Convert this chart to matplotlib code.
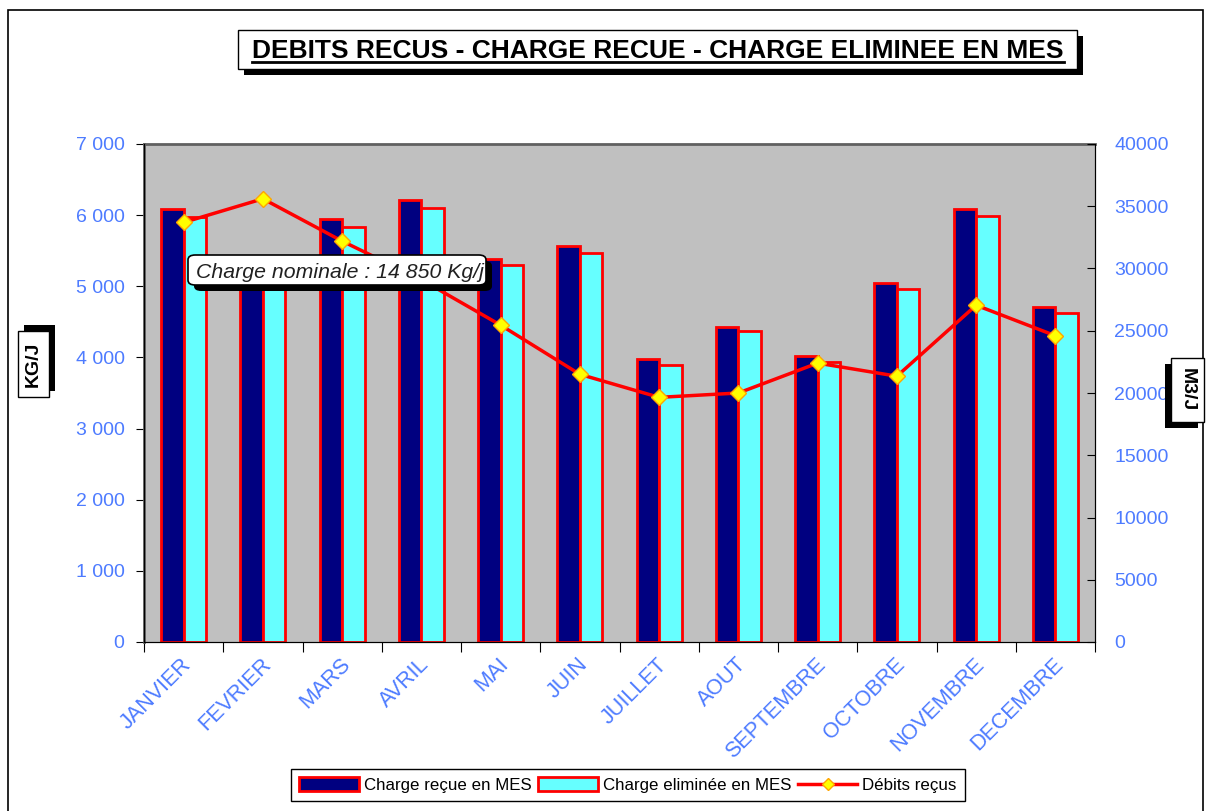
import matplotlib
matplotlib.use('Agg')
import numpy as np
import matplotlib.pyplot as plt
from matplotlib.patches import Rectangle, FancyBboxPatch, Patch
from matplotlib.lines import Line2D
from matplotlib.ticker import FuncFormatter, FixedLocator, MultipleLocator
from matplotlib.transforms import Bbox, TransformedBbox

MOIS = ['JANVIER', 'FEVRIER', 'MARS', 'AVRIL', 'MAI', 'JUIN', 'JUILLET',
        'AOUT', 'SEPTEMBRE', 'OCTOBRE', 'NOVEMBRE', 'DECEMBRE']
CHARGE_RECUE = [6090, 5250, 5940, 6210, 5380, 5565, 3980, 4430, 4020, 5040, 6090, 4705]
CHARGE_ELIMINEE = [5970, 5150, 5840, 6105, 5295, 5465, 3895, 4375, 3935, 4960, 5990, 4630]
DEBITS = [33700, 35600, 32200, 29100, 25450, 21500, 19650, 20000, 22400, 21350, 27050, 24600]

TITRE = 'DEBITS RECUS - CHARGE RECUE - CHARGE ELIMINEE EN MES'
NOTE = 'Charge nominale : 14 850 Kg/j'

W, H = 1208, 811
BLEU = '#4d7bff'
plt.rcParams['font.family'] = ['Liberation Sans', 'DejaVu Sans']

fig = plt.figure(figsize=(W / 100, H / 100), dpi=100)


def fx(x):
    return x / W


def fy(y):
    return 1 - y / H


def boite(x0, y0, x1, y1, dx, dy, arrondi=False):
    ''' white box with black drop shadow, pixel coords from top-left '''
    for (ox, oy, fc, ec) in ((dx, dy, 'black', 'none'), (0, 0, 'white', 'black')):
        if arrondi:
            p = FancyBboxPatch((fx(x0 + ox), fy(y1 + oy)), (x1 - x0) / W, (y1 - y0) / H,
                               boxstyle='round,pad=0,rounding_size=0.006',
                               transform=fig.transFigure, fc=fc, ec=ec, lw=1.2, zorder=5)
        else:
            p = Rectangle((fx(x0 + ox), fy(y1 + oy)), (x1 - x0) / W, (y1 - y0) / H,
                          transform=fig.transFigure, fc=fc, ec=ec, lw=1, zorder=5)
        fig.patches.append(p)


# outer frame
fig.patches.append(Rectangle((fx(8), fy(830)), (1203 - 8) / W, (830 - 10) / H,
                             transform=fig.transFigure, fc='none', ec='black', lw=1.2))

ax = fig.add_axes([fx(144), fy(642), (1095 - 144) / W, (642 - 144) / H])
ax.set_facecolor('#c0c0c0')
x = np.arange(len(MOIS))
w = 0.285
ax.bar(x - w / 2, CHARGE_RECUE, w, color='#000080', edgecolor='red', lw=2, zorder=2)
ax.bar(x + w / 2, CHARGE_ELIMINEE, w, color='#66ffff', edgecolor='red', lw=2, zorder=2)
ax.set_xlim(-0.5, len(MOIS) - 0.5)
ax.set_ylim(0, 7000)
ax.yaxis.set_major_locator(MultipleLocator(1000))
ax.yaxis.set_major_formatter(FuncFormatter(lambda v, p: f'{int(v):,}'.replace(',', ' ')))
ax.tick_params(axis='y', direction='out', length=6, pad=8, labelsize=14, labelcolor=BLEU)
ax.xaxis.set_major_locator(FixedLocator(np.arange(-0.5, len(MOIS), 1)))
ax.xaxis.set_major_formatter(FuncFormatter(lambda v, p: ''))
ax.xaxis.set_minor_locator(FixedLocator(x + 0.06))
ax.set_xticklabels(MOIS, minor=True)
ax.tick_params(axis='x', which='major', direction='out', length=7)
ax.tick_params(axis='x', which='minor', length=0, pad=14, labelsize=15.5, labelcolor=BLEU)
for lab in ax.get_xticklabels(minor=True):
    lab.set_rotation(45)
    lab.set_ha('right')
    lab.set_va('center')
    lab.set_rotation_mode('anchor')
for s in ('top', 'left'):
    ax.spines[s].set_color('#606060')
    ax.spines[s].set_linewidth(2)

ax2 = ax.twinx()
ax2.plot(x, DEBITS, color='red', lw=2.5, marker='D', ms=8, mfc='yellow', mec='orange', mew=1)
ax2.set_ylim(0, 40000)
ax2.yaxis.set_major_locator(MultipleLocator(5000))
ax2.tick_params(axis='y', direction='in', length=6, pad=14, labelsize=14, labelcolor=BLEU)
ax2.spines['top'].set_visible(False)

# title
boite(238, 30, 1077, 69, 6, 6)
t = fig.text(fx(658), fy(58), TITRE, ha='center', va='baseline', fontsize=19,
             fontweight='bold', zorder=6)

# axis titles
boite(18, 331, 49, 397, 6, -6)
fig.text(fx(33.5), fy(364), 'KG/J', rotation=90, ha='center', va='center',
         fontsize=14, fontweight='bold', zorder=6)
boite(1171, 358, 1204, 422, -6, 6)
fig.text(fx(1187.5), fy(390), 'M3/J', rotation=-90, ha='center', va='center',
         fontsize=14, fontweight='bold', zorder=6)

# note
boite(188, 255, 486, 285, 6, 6, arrondi=True)
note = fig.text(fx(196), fy(272), NOTE, ha='left', va='center', fontsize=15.3,
                style='italic', color='#202020', zorder=6)
note.set_clip_box(TransformedBbox(Bbox([[fx(188), fy(285)], [fx(486), fy(255)]]),
                                  fig.transFigure))

handles = [Patch(fc='#000080', ec='red', lw=2),
           Patch(fc='#66ffff', ec='red', lw=2),
           Line2D([], [], color='red', lw=2.5, marker='D', ms=6, mfc='yellow', mec='orange')]
labels = ['Charge reçue en MES', 'Charge eliminée en MES', 'Débits reçus']
leg = fig.legend(handles, labels, loc='center', bbox_to_anchor=(fx(628), fy(785)), ncol=3,
                 fontsize=12.2, frameon=True, fancybox=False, edgecolor='black', framealpha=1,
                 handlelength=3.5, handleheight=0.9, columnspacing=0.4, handletextpad=0.3,
                 borderpad=0.5, borderaxespad=0)
leg.get_frame().set_linewidth(1)

fig.canvas.draw()
bb = t.get_window_extent()
fig.lines.append(Line2D([bb.x0 / W, bb.x1 / W], [fy(62), fy(62)], transform=fig.transFigure,
                        color='black', lw=2, zorder=6))

fig.savefig('out.png', dpi=100)
